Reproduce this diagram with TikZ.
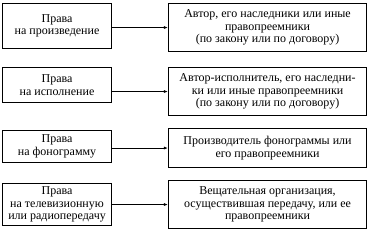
\documentclass[tikz,border=0pt]{standalone}
\usepackage{fontspec}
\setmainfont{Liberation Serif}
\usepackage{tikz}
\usetikzlibrary{arrows.meta,positioning}

\begin{document}
\begin{tikzpicture}[
  x=1pt,y=-1pt,
  rights/.style={draw=black,line width=1.1pt,align=center,inner sep=0pt,
    minimum width=109pt,anchor=north west,font=\fontsize{12}{12.5}\selectfont},
  holder/.style={draw=black,line width=1.1pt,align=center,inner sep=0pt,
    minimum width=198pt,anchor=north west,font=\fontsize{12}{12.5}\selectfont},
  arrow/.style={-{Latex[length=4pt,width=3pt]},draw=black,line width=.8pt}
]
\useasboundingbox (0,0) rectangle (368,229);
\node[rights,minimum height=45pt] (work) at (2,3) {Права\\на произведение};
\node[holder,minimum height=48pt] (workholder) at (168,3)
  {Автор, его наследники или иные\\правопреемники\\(по закону или по договору)};
\node[rights,minimum height=35pt] (perform) at (2,67) {Права\\на исполнение};
\node[holder,minimum height=48pt] (performholder) at (168,67)
  {Автор-исполнитель, его наследни-\\ки или иные правопреемники\\(по закону или по договору)};
\node[rights,minimum height=32pt] (phono) at (2,130) {Права\\на фонограмму};
\node[holder,minimum height=39pt] (phonoholder) at (168,128)
  {Производитель фонограммы или\\его правопреемники};
\node[rights,minimum height=42pt] (broadcast) at (2,183) {Права\\на телевизионную\\или радиопередачу};
\node[holder,minimum height=48pt] (broadcastholder) at (168,180)
  {Вещательная организация,\\осуществившая передачу, или ее\\правопреемники};
\draw[arrow] (workholder.west -| work.east) -- (workholder.west);
\draw[arrow] (performholder.west -| perform.east) -- (performholder.west);
\draw[arrow] (phonoholder.west -| phono.east) -- (phonoholder.west);
\draw[arrow] (broadcastholder.west -| broadcast.east) -- (broadcastholder.west);
\end{tikzpicture}
\end{document}
